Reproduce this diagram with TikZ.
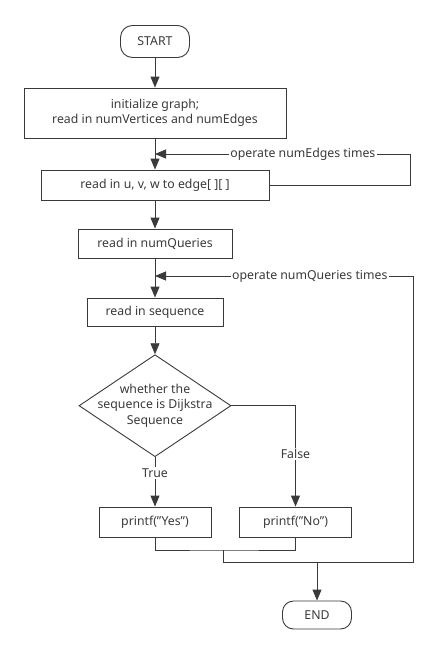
\documentclass[tikz,border=0pt]{standalone}
\usepackage{fontspec}
\setmainfont{Noto Sans}
\usetikzlibrary{shapes.geometric,arrows.meta}
\definecolor{ink}{HTML}{3A3A3A}
\begin{document}
\begin{tikzpicture}[
            x=1pt, y=-1pt,
            font=\fontsize{12.3}{15.5}\selectfont,
            every node/.style={text=ink},
            box/.style={rectangle, draw=ink, line width=0.9pt, align=center, inner sep=0pt},
            term/.style={box, rounded corners=12pt, minimum width=69pt, minimum height=32pt},
            cond/.style={diamond, draw=ink, line width=0.9pt, inner sep=0pt, minimum width=152pt, minimum height=102pt},
            tag/.style={fill=white, inner sep=1.5pt},
            arr/.style={draw=ink, line width=0.9pt, -{Triangle[length=11pt, width=9pt]}},
            wire/.style={draw=ink, line width=0.9pt}
            ]
            \useasboundingbox (0,0) rectangle (437,653);

            \node[term] (start) at (155,41.5) {START};
            \node[box, minimum width=262pt, minimum height=50pt] (init) at (155,113) {initialize graph;\\read in numVertices and numEdges};
            \node[box, minimum width=228pt, minimum height=30pt] (edge) at (155,185) {read in u, v, w to edge[ ][ ]};
            \node[box, minimum width=154pt, minimum height=29pt] (numq) at (155,243.5) {read in numQueries};
            \node[box, minimum width=136pt, minimum height=28pt] (seq) at (155,312) {read in sequence};
            \node[cond, label={[align=center]center:whether the\\sequence is Dijkstra\\Sequence}] (dia) at (155,405.7) {};
            \node[box, minimum width=112pt, minimum height=30pt] (yes) at (155,522) {printf(\symbol{34}Yes\symbol{34})};
            \node[box, minimum width=112pt, minimum height=30pt] (no) at (295.5,522) {printf(\symbol{34}No\symbol{34})};
            \node[term, minimum height=28pt, rounded corners=11pt] (end) at (317,615) {END};

            \coordinate (r1) at (410,154);
            \coordinate (mj) at (223,550);
            \coordinate (mb) at (223,562);
            \coordinate (rt) at (413,276);

            \draw[arr] (start) -- (init);
            \draw[arr] (init) -- (edge);
            \draw[arr] (edge.east) -| (r1) -- node[tag, pos=0.42] {operate numEdges times} (r1 -| init.south);
            \draw[arr] (edge) -- (numq);
            \draw[arr] (numq) -- (seq);
            \draw[arr] (seq) -- (dia);
            \draw[arr] (dia.south) -- node[tag, pos=0.32] {True} (yes.north);
            \draw[arr] (dia.east) -| node[tag, pos=0.74] {False} (no.north);
            \draw[wire] (yes.south) |- (mj) -| (no.south);
            \draw[wire] (mj) -- (mb) -| (rt);
            \draw[arr] (rt) -- node[tag, pos=0.4] {operate numQueries times} (rt -| seq.north);
            \draw[arr] (mb -| end.north) -- (end);

            \end{tikzpicture}
\end{document}
